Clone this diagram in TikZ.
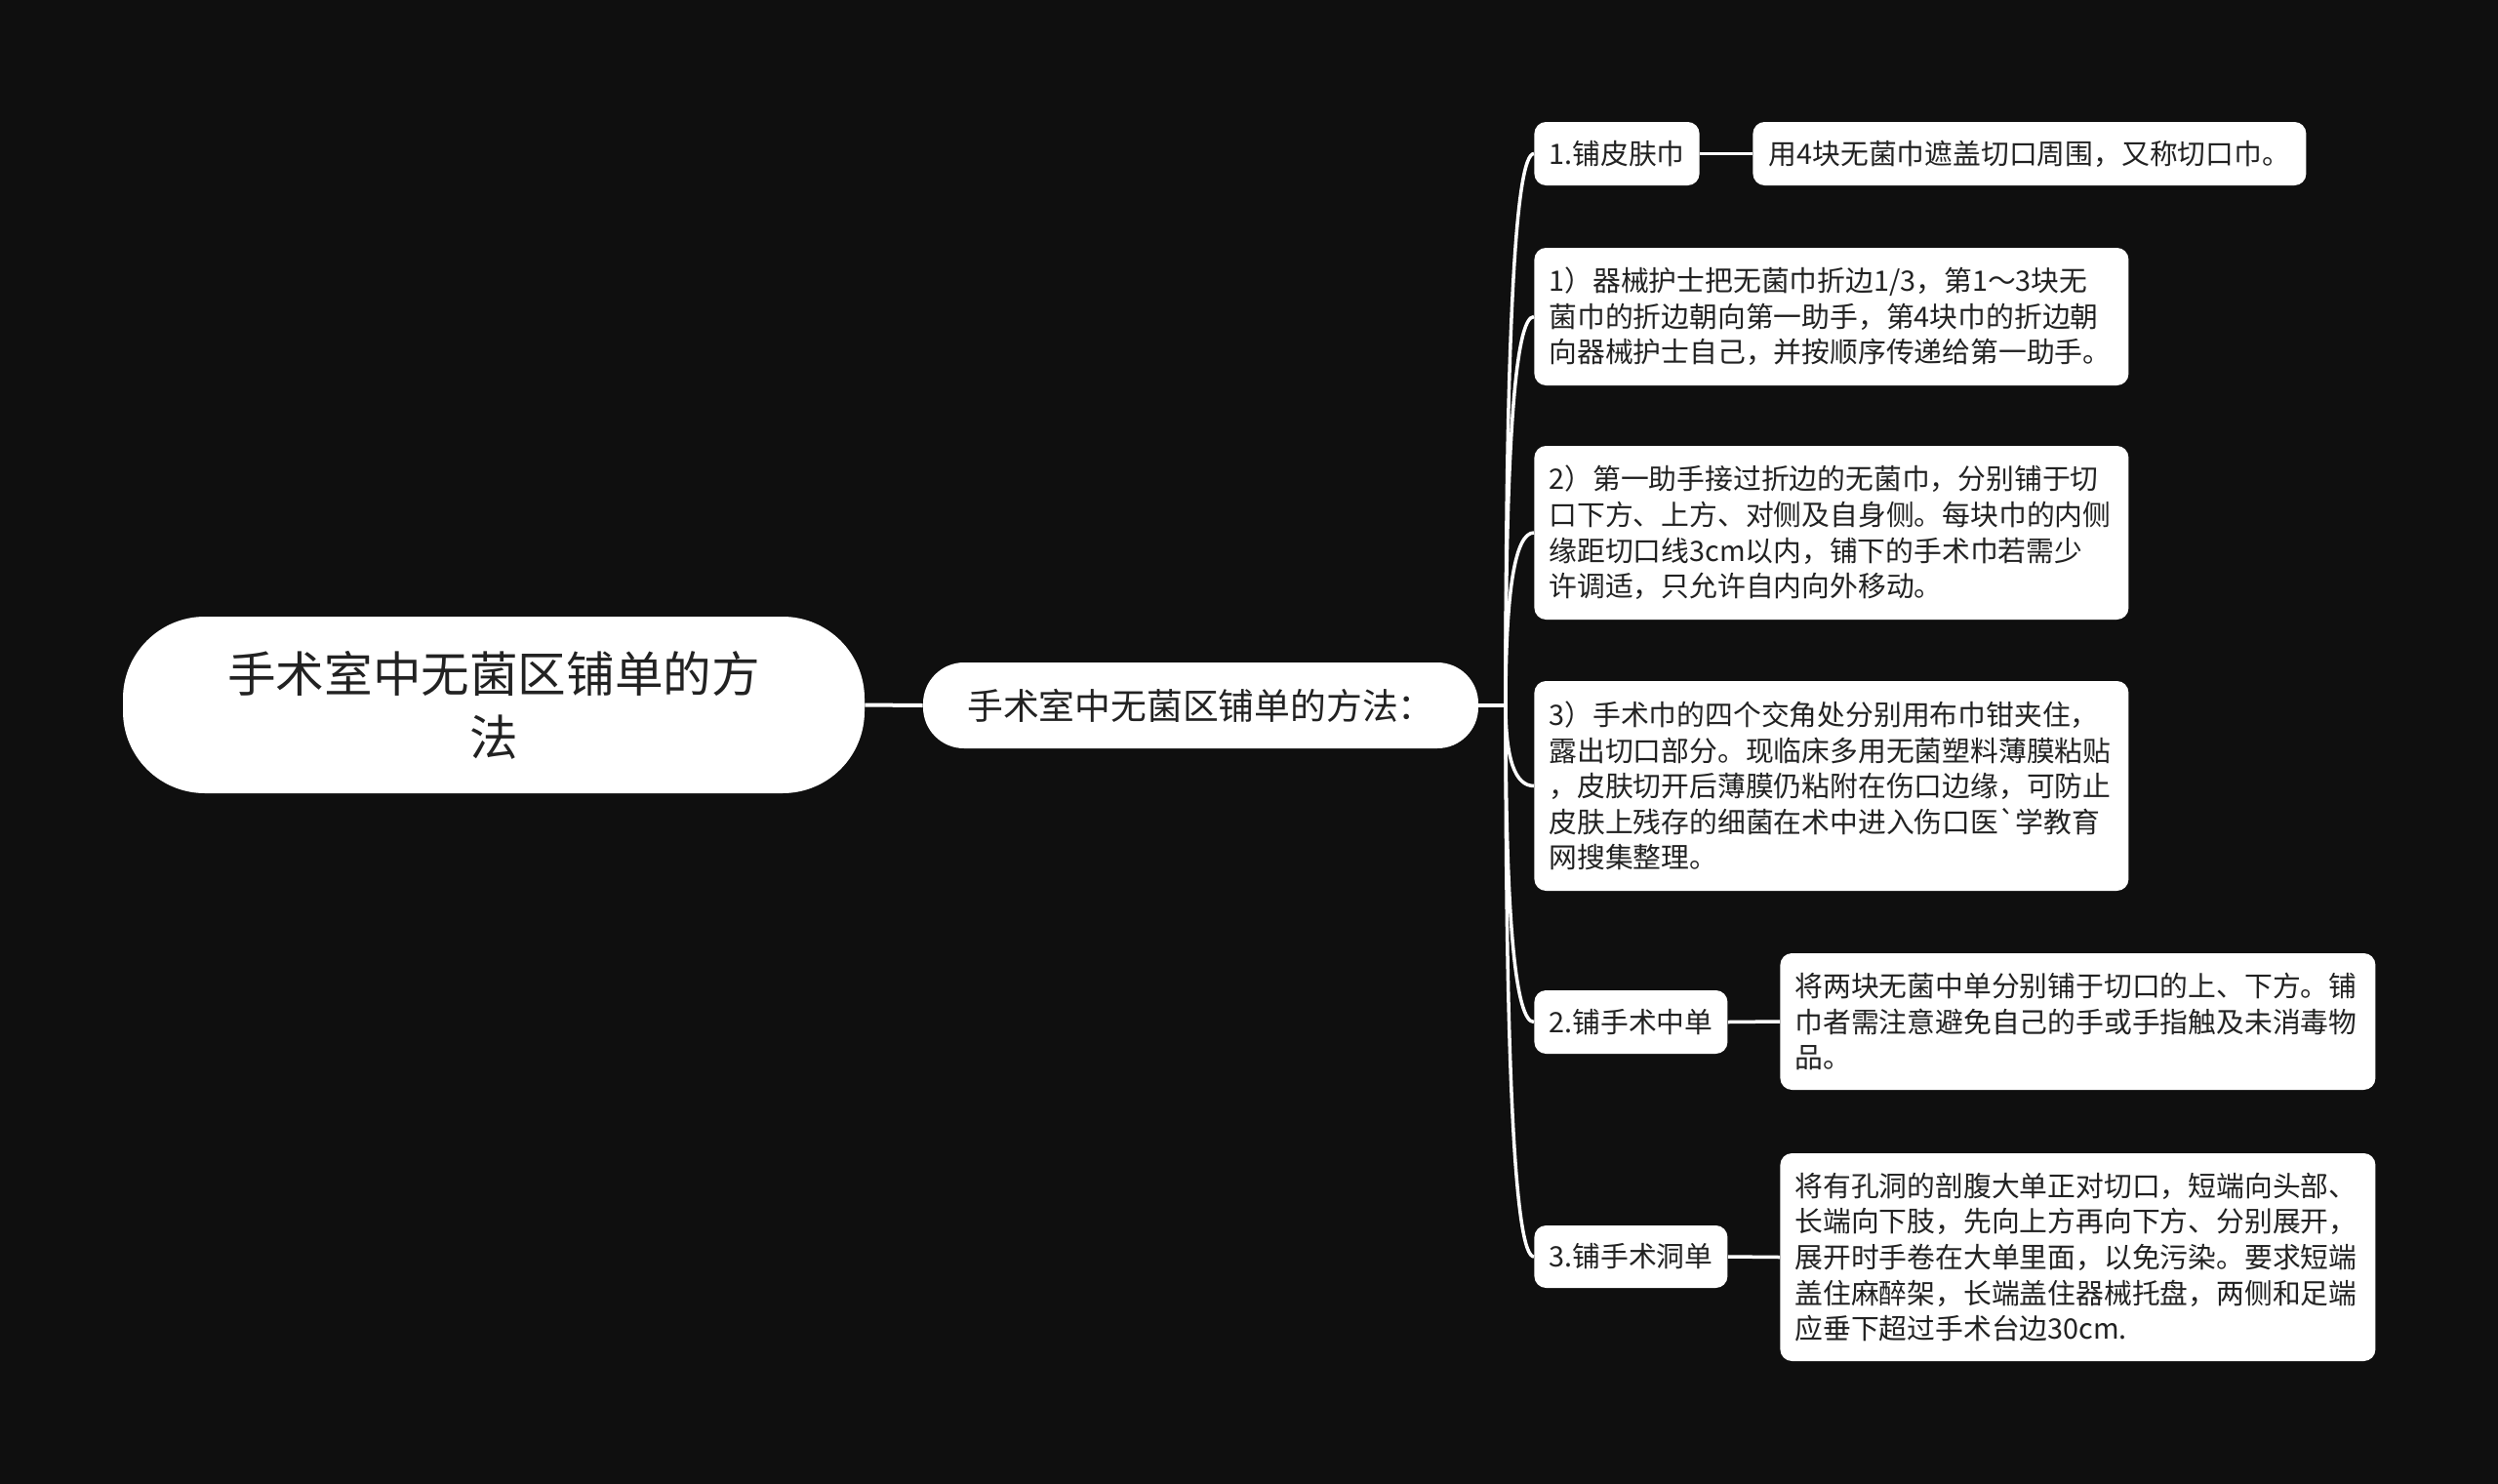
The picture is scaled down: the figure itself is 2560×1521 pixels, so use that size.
\documentclass[tikz,border=0pt]{standalone}
\usepackage{xcolor}
\usepackage{fontspec}
\usepackage{tikz}
\usetikzlibrary{calc}
\newfontfamily\cjk{Noto Sans CJK SC}
\definecolor{pagebg}{RGB}{15,15,15}
\definecolor{boxtext}{RGB}{34,34,34}

\begin{document}
\begin{tikzpicture}[x=0.5pt,y=-0.5pt,
  box/.style={fill=white,text=boxtext,rounded corners=6pt,inner xsep=7.5pt,inner ysep=0pt,
    font=\cjk\fontsize{14.4}{18.3}\selectfont},
  leafbox/.style={box,anchor=west,align=left,text width=289.5pt},
  branch/.style={draw=white,line width=1.75pt}]
\fill[pagebg] (0,0) rectangle (2560,1521);
\useasboundingbox (0,0) rectangle (2560,1521);
% root and first level
\node[box,rounded corners=42pt,minimum width=380pt,minimum height=90.5pt,align=center,
  font=\cjk\fontsize{24.8}{32.5}\selectfont] (root) at (506,722.5) {手术室中无菌区铺单的方\\法};
\node[box,rounded corners=21pt,minimum width=284.5pt,minimum height=44pt,
  font=\cjk\fontsize{18.4}{22}\selectfont] (l1) at (1230.5,723) {手术室中无菌区铺单的方法：};
\coordinate (trunk) at (1543,723);
% 1
\node[box,anchor=west,minimum width=84pt,minimum height=32.5pt] (c1) at (1572,157.5) {1.铺皮肤巾};
\node[box,anchor=west,minimum width=283.5pt,minimum height=32.5pt] (d1) at (1796,157.5) {用4块无菌巾遮盖切口周围，又称切口巾。};
\node[leafbox,minimum height=70.5pt] (s1) at (1572,324.5) {1）器械护士把无菌巾折边1/3，第1～3块无\\
菌巾的折边朝向第一助手，第4块巾的折边朝\\
向器械护士自己，并按顺序传递给第一助手。};
\node[leafbox,minimum height=89pt] (s2) at (1572,546) {2）第一助手接过折边的无菌巾，分别铺于切\\
口下方、上方、对侧及自身侧。每块巾的内侧\\
缘距切口线3cm以内，铺下的手术巾若需少\\
许调适，只允许自内向外移动。};
\node[leafbox,minimum height=107.5pt] (s3) at (1572,805.5) {3）手术巾的四个交角处分别用布巾钳夹住，\\
露出切口部分。现临床多用无菌塑料薄膜粘贴\\
，皮肤切开后薄膜仍粘附在伤口边缘，可防止\\
皮肤上残存的细菌在术中进入伤口医`学教育\\
网搜集整理。};
% 2
\node[box,anchor=west,minimum width=98pt,minimum height=32.5pt] (c2) at (1572,1047.5) {2.铺手术中单};
\node[leafbox,text width=290pt,minimum height=70pt] (d2) at (1824,1047) {将两块无菌中单分别铺于切口的上、下方。铺\\
巾者需注意避免自己的手或手指触及未消毒物\\
品。};
% 3
\node[box,anchor=west,minimum width=98pt,minimum height=32pt] (c3) at (1572,1288) {3.铺手术洞单};
\node[leafbox,text width=290pt,minimum height=106.5pt] (d3) at (1824,1288.5) {将有孔洞的剖腹大单正对切口，短端向头部、\\
长端向下肢，先向上方再向下方、分别展开，\\
展开时手卷在大单里面，以免污染。要求短端\\
盖住麻醉架，长端盖住器械托盘，两侧和足端\\
应垂下超过手术台边30cm.};
% connectors
\draw[branch,line width=2pt] (root.east) -- (l1.west);
\draw[branch] (l1.east) -- (trunk);
\foreach \n in {c1,s1,s2,s3,c2,c3}
  \draw[branch] (trunk) .. controls ($(trunk)!2/3!(trunk |- \n.west)$) and ($(\n.west)!2/3!(trunk |- \n.west)$) .. (\n.west);
\draw[branch] (c1.east) -- (d1.west);
\draw[branch] (c2.east) -- (d2.west);
\draw[branch] (c3.east) -- (d3.west);
\end{tikzpicture}
\end{document}
